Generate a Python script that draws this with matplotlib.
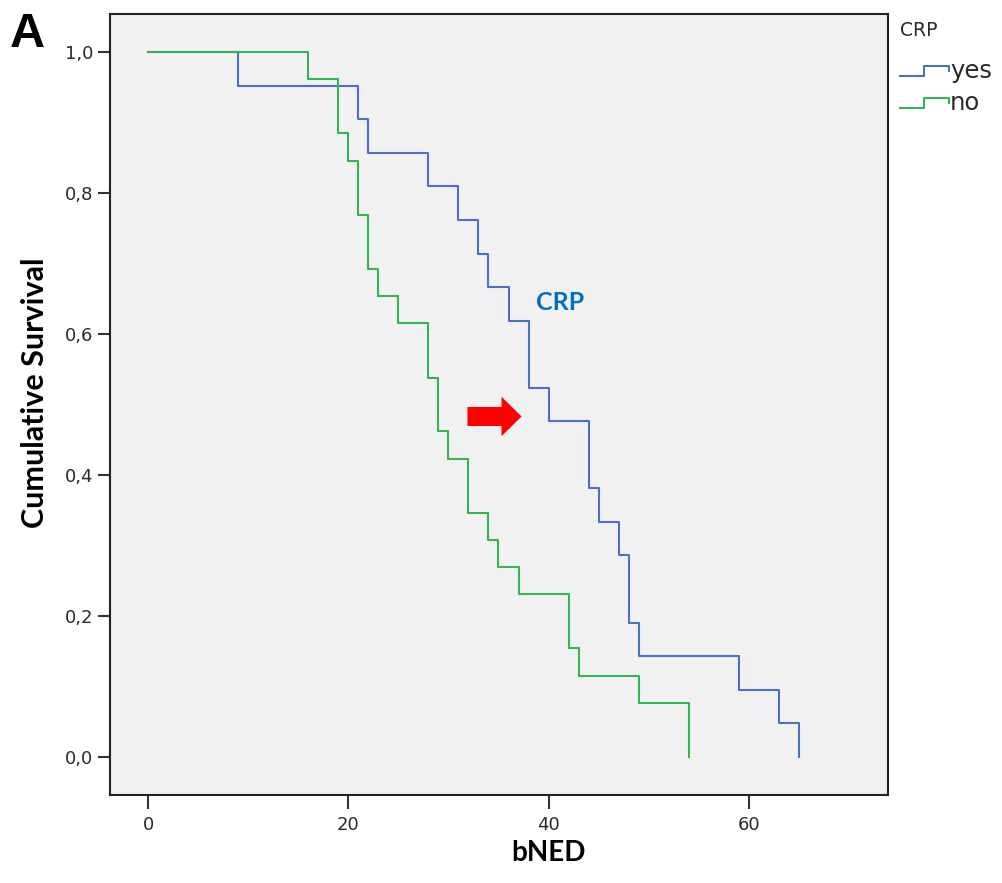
import matplotlib
matplotlib.use("Agg")
import matplotlib.pyplot as plt
from matplotlib.lines import Line2D
from matplotlib.legend_handler import HandlerBase
from matplotlib.patches import FancyArrow
from matplotlib.ticker import FuncFormatter

# Kaplan-Meier estimates (time of event, survival after the event)
yes_times = [0, 9, 21, 22, 28, 31, 33, 34, 36, 38, 40, 44, 45, 47, 48, 49, 59, 63, 65]
yes_surv = [1.0, 0.952, 0.905, 0.857, 0.810, 0.762, 0.714, 0.667, 0.619, 0.524,
            0.476, 0.381, 0.333, 0.286, 0.190, 0.143, 0.095, 0.048, 0.0]

no_times = [0, 16, 19, 20, 21, 22, 23, 25, 28, 29, 30, 32, 34, 35, 37, 42, 43, 49, 54]
no_surv = [1.0, 0.962, 0.885, 0.846, 0.769, 0.692, 0.654, 0.615, 0.538, 0.462,
           0.423, 0.346, 0.308, 0.269, 0.231, 0.154, 0.115, 0.077, 0.0]

group_labels = ["yes", "no"]
x_ticks = [0, 20, 40, 60]
y_ticks = [0.0, 0.2, 0.4, 0.6, 0.8, 1.0]

BLUE = "#4F6FC0"
GREEN = "#36B352"
TICK_FONT = "DejaVu Sans"
LABEL_FONT = ["Lato", "DejaVu Sans"]


class StepHandler(HandlerBase):
    """Legend key drawn as a small survival step."""

    def create_artists(self, legend, orig_handle, xdescent, ydescent,
                       width, height, fontsize, trans):
        x0, y0 = -xdescent, -ydescent
        xs = [x0, x0 + 0.5 * width, x0 + 0.5 * width, x0 + width, x0 + width]
        ys = [y0 + 0.15 * height, y0 + 0.15 * height, y0 + 0.75 * height,
              y0 + 0.75 * height, y0 + 0.45 * height]
        line = Line2D(xs, ys, color=orig_handle.get_color(),
                      lw=orig_handle.get_linewidth())
        line.set_transform(trans)
        return [line]


W, H = 1002, 883
fig = plt.figure(figsize=(W / 100, H / 100), dpi=100)
fig.patch.set_facecolor("white")
ax = fig.add_axes([110 / W, (H - 795) / H, (888 - 110) / W, (795 - 14) / H])
ax.set_facecolor("#F1F1F1")

h_yes, = ax.step(yes_times, yes_surv, where="post", color=BLUE, lw=1.5)
h_no, = ax.step(no_times, no_surv, where="post", color=GREEN, lw=1.5)

ax.set_xlim(-3.8, 73.9)
ax.set_ylim(-0.054, 1.054)
ax.set_xticks(x_ticks)
ax.set_yticks(y_ticks)
ax.yaxis.set_major_formatter(FuncFormatter(lambda v, _: f"{v:.1f}".replace(".", ",")))

for sp in ax.spines.values():
    sp.set_linewidth(1.5)
    sp.set_color("#222222")
ax.tick_params(axis="x", direction="out", length=10, width=1.5, color="#333333",
               pad=5, labelsize=13, labelcolor="#2a2a2a")
ax.tick_params(axis="y", direction="out", length=9, width=1.5, color="#333333",
               pad=3, labelsize=13, labelcolor="#2a2a2a")
for lab in ax.get_xticklabels() + ax.get_yticklabels():
    lab.set_fontfamily(TICK_FONT)

ax.set_xlabel("bNED", fontsize=20, fontweight="bold", family=LABEL_FONT)
ax.set_ylabel("Cumulative Survival", fontsize=22, fontweight="bold", family=LABEL_FONT)
ax.xaxis.set_label_coords(0.563, -0.058)
ax.yaxis.set_label_coords(-0.078, 0.515)

# annotation: group name and red pointer
ax.text(41.2, 0.644, "CRP", color="#0070C0", fontsize=18, fontweight="bold",
        family=LABEL_FONT, ha="center", va="center")
ax.add_patch(FancyArrow(31.9, 0.483, 5.4, 0, width=0.027, head_width=0.056,
                        head_length=2.0, length_includes_head=True,
                        color="red", lw=0))

leg = fig.legend([h_yes, h_no], group_labels, title="CRP", loc="upper left",
                 bbox_to_anchor=(900 / W, 1 - 21 / H), frameon=False,
                 handler_map={Line2D: StepHandler()}, handlelength=2.0,
                 handletextpad=0.05, labelspacing=0.33, borderpad=0,
                 borderaxespad=0, alignment="left",
                 prop={"family": TICK_FONT, "size": 17.5},
                 title_fontproperties={"family": TICK_FONT, "size": 13.5})
leg._legend_box.sep = 14  # gap between the title and the entries
leg.get_title().set_color("#2a2a2a")
for t in leg.get_texts():
    t.set_color("#2a2a2a")

fig.text(10 / W, 1 - 12 / H, "A", fontsize=35, fontweight="bold",
         family="Liberation Sans", ha="left", va="top")

fig.savefig("out.png", dpi=100, facecolor="white")
